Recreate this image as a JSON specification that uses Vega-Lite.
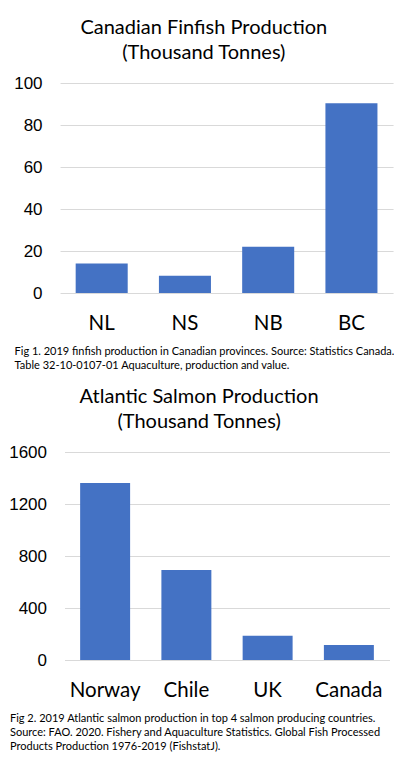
{
  "$schema": "https://vega.github.io/schema/vega-lite/v6.json",
  "padding": {"left": 8, "top": 18, "right": 0, "bottom": 0},
  "background": "white",
  "spacing": 16,
  "center": true,
  "datasets": {
    "finfish": [
      {"province": "NL", "production": 14},
      {"province": "NS", "production": 8.2},
      {"province": "NB", "production": 22},
      {"province": "BC", "production": 90.3}
    ],
    "salmon": [
      {"country": "Norway", "production": 1361},
      {"country": "Chile", "production": 692},
      {"country": "UK", "production": 187},
      {"country": "Canada", "production": 115}
    ]
  },
  "config": {
    "view": {"stroke": null},
    "font": "Lato",
    "title": {"fontSize": 20, "fontWeight": "normal", "color": "#000000", "lineHeight": 25, "anchor": "middle", "frame": "bounds", "font": "Lato"},
    "axisY": {"grid": true, "gridColor": "#D9D9D9", "domain": false, "ticks": false, "labelFont": "Liberation Sans", "labelFontSize": 17, "labelColor": "#000000", "labelPadding": 18, "title": null, "format": "d"},
    "axisX": {"domain": false, "ticks": false, "labelAngle": 0, "labelFont": "Lato", "labelFontSize": 20.5, "labelColor": "#000000", "labelPadding": 20,
      "titleFont": "Lato", "titleFontSize": 11, "titleFontWeight": "normal", "titleColor": "#000000", "titleAnchor": "start", "titleAlign": "left", "titleLineHeight": 14, "titlePadding": 12},
    "bar": {"color": "#4472C4"}
  },
  "vconcat": [
    {
      "title": {"text": ["Canadian Finfish Production", "(Thousand Tonnes)"], "offset": 11},
      "width": 333,
      "height": 210,
      "data": {"name": "finfish"},
      "mark": {"type": "bar"},
      "encoding": {
        "x": {"field": "province", "type": "nominal", "sort": null,
          "scale": {"paddingInner": 0.375, "paddingOuter": 0.1875},
          "axis": {"title": ["Fig 1. 2019 finfish production in Canadian provinces. Source: Statistics Canada.                  ", "Table 32-10-0107-01 Aquaculture, production and value."], "titleX": -46}},
        "y": {"field": "production", "type": "quantitative",
          "scale": {"domain": [0, 100], "nice": false},
          "axis": {"values": [0, 20, 40, 60, 80, 100]}}
      }
    },
    {
      "title": {"text": ["Atlantic Salmon Production", "(Thousand Tonnes)"], "offset": 11},
      "width": 325,
      "height": 208,
      "data": {"name": "salmon"},
      "mark": {"type": "bar"},
      "encoding": {
        "x": {"field": "country", "type": "nominal", "sort": null,
          "scale": {"paddingInner": 0.385, "paddingOuter": 0.1925},
          "axis": {"title": ["Fig 2. 2019 Atlantic salmon production in top 4 salmon producing countries.", "Source: FAO. 2020. Fishery and Aquaculture Statistics. Global Fish Processed", "Products Production 1976-2019 (FishstatJ)."], "titleX": -55}},
        "y": {"field": "production", "type": "quantitative",
          "scale": {"domain": [0, 1600], "nice": false},
          "axis": {"values": [0, 400, 800, 1200, 1600]}}
      }
    }
  ]
}
